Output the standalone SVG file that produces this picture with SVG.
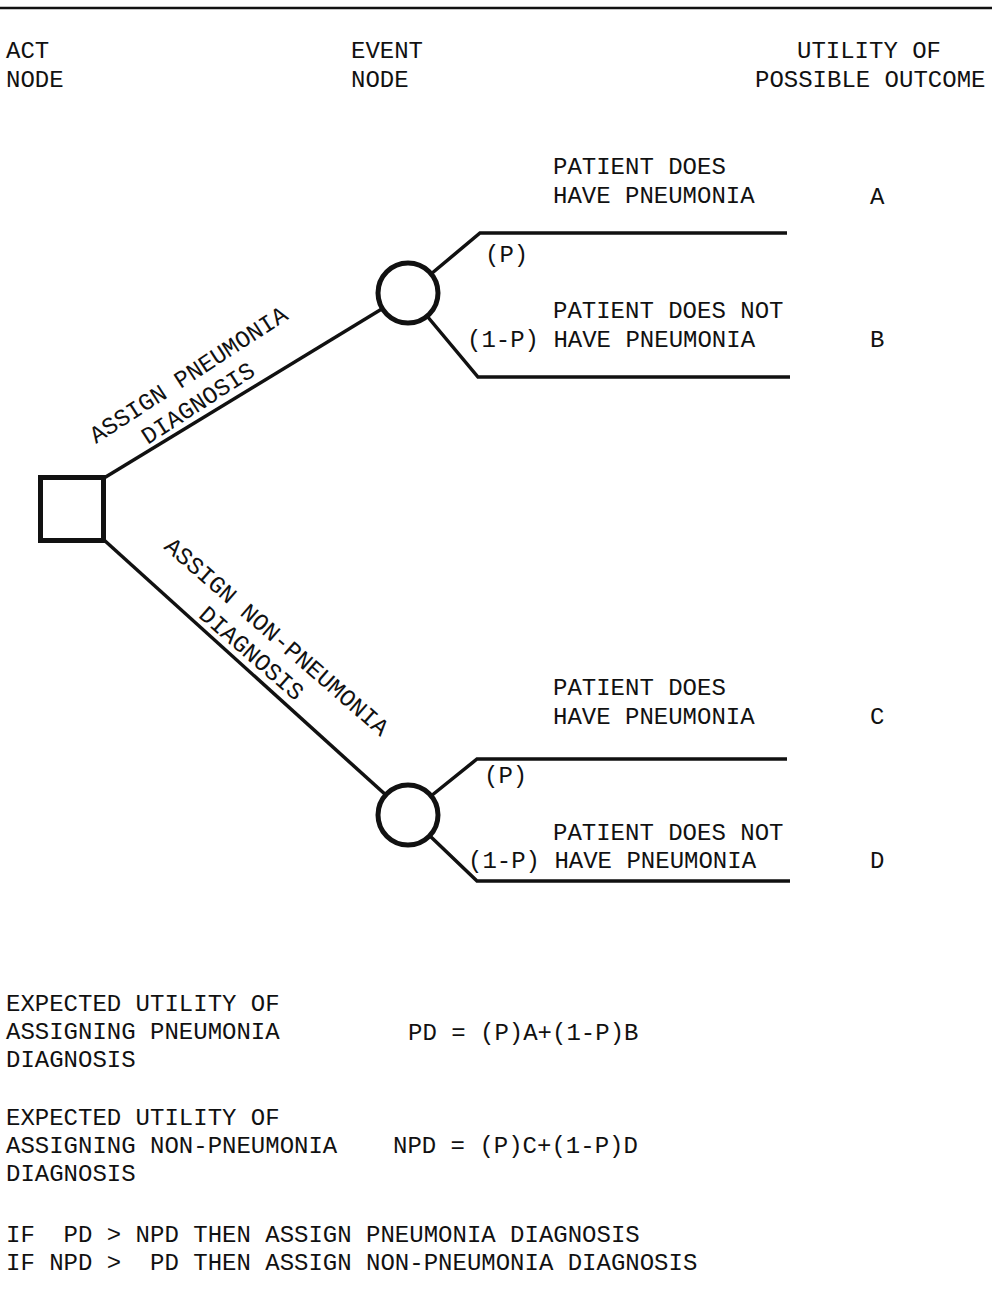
<svg xmlns="http://www.w3.org/2000/svg" width="992" height="1301" viewBox="0 0 992 1301">
<style>
text{font-family:"Liberation Mono","Courier New",monospace;font-size:24px;fill:#111;white-space:pre}
.ln{fill:none;stroke:#111;stroke-width:3.5;stroke-linejoin:miter}
.nd{fill:#fff;stroke:#111;stroke-width:5}
</style>
<rect width="992" height="1301" fill="#fff"/>
<line x1="0" y1="8" x2="992" y2="8" stroke="#111" stroke-width="2.5"/>
<g id="headers">
<text x="6" y="58">ACT</text>
<text x="6" y="87">NODE</text>
<text x="351" y="58">EVENT</text>
<text x="351" y="87">NODE</text>
<text x="869" y="58" text-anchor="middle">UTILITY OF</text>
<text x="755" y="87">POSSIBLE OUTCOME</text>
</g>
<g id="connectors">
<line class="ln" x1="104" y1="478" x2="408" y2="293"/>
<line class="ln" x1="104" y1="540" x2="408" y2="815"/>
<polyline class="ln" points="431,274 480,233 787,233"/>
<polyline class="ln" points="427,316 478,377 790,377"/>
<polyline class="ln" points="431,796 477,759 787,759"/>
<polyline class="ln" points="430,836 477,881 790,881"/>
</g>
<g id="act-node">
<rect class="nd" x="40.5" y="477.5" width="63" height="63"/>
</g>
<g id="event-node-1">
<circle class="nd" cx="408" cy="293" r="30"/>
</g>
<g id="event-node-2">
<circle class="nd" cx="408" cy="815" r="30"/>
</g>
<g id="branch-labels">
<text transform="translate(96,444) rotate(-33)"><tspan x="0" y="0">ASSIGN PNEUMONIA</tspan><tspan x="43" y="29">DIAGNOSIS</tspan></text>
<text transform="translate(163,548) rotate(41)"><tspan x="0" y="0">ASSIGN NON-PNEUMONIA</tspan><tspan x="71" y="29">DIAGNOSIS</tspan></text>
</g>
<g id="outcome-A">
<text x="553" y="174">PATIENT DOES</text>
<text x="553" y="203">HAVE PNEUMONIA</text>
<text x="485" y="262">(P)</text>
<text x="870" y="204">A</text>
</g>
<g id="outcome-B">
<text x="553" y="318">PATIENT DOES NOT</text>
<text x="467" y="347">(1-P) HAVE PNEUMONIA</text>
<text x="870" y="347">B</text>
</g>
<g id="outcome-C">
<text x="553" y="695">PATIENT DOES</text>
<text x="553" y="724">HAVE PNEUMONIA</text>
<text x="484" y="783">(P)</text>
<text x="870" y="724">C</text>
</g>
<g id="outcome-D">
<text x="553" y="840">PATIENT DOES NOT</text>
<text x="468" y="868">(1-P) HAVE PNEUMONIA</text>
<text x="870" y="868">D</text>
</g>
<g id="equations">
<text x="6" y="1011">EXPECTED UTILITY OF</text>
<text x="6" y="1039">ASSIGNING PNEUMONIA</text>
<text x="6" y="1067">DIAGNOSIS</text>
<text x="408" y="1040">PD = (P)A+(1-P)B</text>
<text x="6" y="1125">EXPECTED UTILITY OF</text>
<text x="6" y="1153">ASSIGNING NON-PNEUMONIA</text>
<text x="6" y="1181">DIAGNOSIS</text>
<text x="393" y="1153">NPD = (P)C+(1-P)D</text>
<text x="6" y="1242">IF  PD &gt; NPD THEN ASSIGN PNEUMONIA DIAGNOSIS</text>
<text x="6" y="1270">IF NPD &gt;  PD THEN ASSIGN NON-PNEUMONIA DIAGNOSIS</text>
</g>
</svg>
